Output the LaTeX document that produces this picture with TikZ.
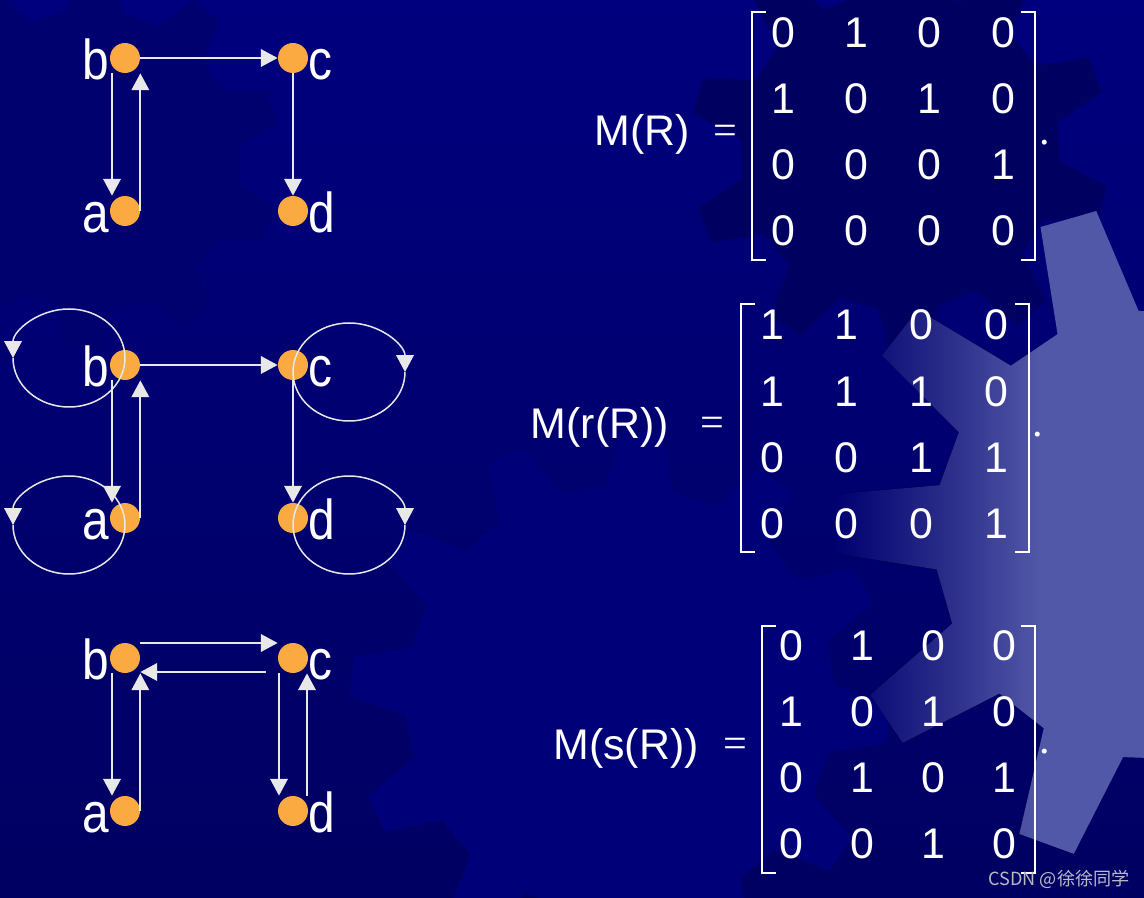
\documentclass[tikz,border=0pt]{standalone}
\usepackage{fontspec}
\setmainfont{Liberation Sans}
\newfontfamily\lblfont[FakeStretch=0.85]{Liberation Sans}
\newfontfamily\eqfont{Liberation Serif}
\newfontfamily\cjkfont{Noto Sans CJK SC}
\usetikzlibrary{arrows.meta,positioning,calc}
\definecolor{bgtop}{RGB}{0,0,126}
\definecolor{bgbot}{RGB}{0,0,98}
\definecolor{bgmid}{RGB}{0,0,112}
\definecolor{gearlight}{RGB}{82,88,168}
\definecolor{gearfade}{RGB}{44,46,138}
\definecolor{geardark}{RGB}{0,0,96}
\definecolor{gearsoft}{RGB}{0,0,110}
\definecolor{gearmid}{RGB}{0,0,120}
\definecolor{dotorange}{RGB}{250,170,64}
\definecolor{arrowgray}{RGB}{232,232,232}
\definecolor{marksilver}{RGB}{185,185,200}
% gear outline: cx, cy, outer r, root r, teeth, turn, path options
\newcommand{\gear}[7]{%
  \pgfmathsetmacro\gstep{360/#5}%
  \path[#7] ([shift={(#1,#2)}]#6-0.3*\gstep:#4)
    \foreach \i [evaluate=\i as \a using #6+(\i-1)*\gstep] in {1,...,#5}{
      -- ([shift={(#1,#2)}]\a-0.3*\gstep:#4) -- ([shift={(#1,#2)}]\a-0.14*\gstep:#3)
      -- ([shift={(#1,#2)}]\a+0.14*\gstep:#3) -- ([shift={(#1,#2)}]\a+0.3*\gstep:#4)} -- cycle;}

\begin{document}
\begin{tikzpicture}[x=0.02cm,y=-0.02cm,
  dot/.style={circle,fill=dotorange,minimum size=0.6cm,inner sep=0pt},
  lbl/.style={font=\lblfont\fontsize{32}{32}\selectfont,text=white,inner sep=0pt,text height=24pt,text depth=0pt},
  arr/.style={draw=arrowgray,line width=1.1pt,-{Triangle[length=9.6pt,width=10pt]}},
  selfloop/.style={arr,line width=0.85pt},
  ent/.style={font=\fontsize{24.4}{26}\selectfont,text=white,inner sep=0pt},
  eqs/.style={font=\eqfont\fontsize{24}{26}\selectfont,text=white,inner sep=0pt},
  brk/.style={draw=white,line width=0.9pt}]
\useasboundingbox (0,0) rectangle (1144,898);
% background
\fill[top color=bgtop,bottom color=bgbot] (0,0) rectangle (1144,898);
\gear{620}{700}{270}{215}{12}{5}{fill=gearmid}
\gear{90}{160}{190}{150}{10}{20}{fill=gearsoft}
\gear{900}{150}{210}{160}{10}{15}{fill=geardark}
\begin{scope}
  \gear{1159}{535}{330}{225}{10}{182}{clip}
  \fill[left color=bgmid,right color=gearfade] (835,0) rectangle (950,898);
  \fill[left color=gearfade,right color=gearlight] (950,0) rectangle (1040,898);
  \fill[gearlight] (1040,0) rectangle (1144,898);
\end{scope}

% the three graphs
\foreach \g/\y in {1/58,2/365,3/658}{
  \node[dot,label={[lbl]left:b}] (b\g) at (125,\y) {};
  \node[dot,label={[lbl]right:c}] (c\g) at (293,\y) {};
  \node[dot,label={[lbl]left:a}] (a\g) at (125,\y+153) {};
  \node[dot,label={[lbl]right:d}] (d\g) at (293,\y+153) {};
}
% R
\draw[arr] ([xshift=-0.26cm]b1.south) -- ([xshift=-0.26cm]a1.north);
\draw[arr] (a1.east) -- (a1.east |- b1.south);
\draw[arr] (b1) -- (c1);
\draw[arr] (c1) -- (d1);
% r(R)
\draw[arr] ([xshift=-0.26cm]b2.south) -- ([xshift=-0.26cm]a2.north);
\draw[arr] (a2.east) -- (a2.east |- b2.south);
\draw[arr] (b2) -- (c2);
\draw[arr] (c2) -- (d2);
\draw[selfloop] (b2.center) ++(-112,-7) arc[start angle=180,end angle=-180,x radius=56,y radius=49];
\draw[selfloop] (a2.center) ++(-112,7) arc[start angle=180,end angle=-180,x radius=56,y radius=49];
\draw[selfloop] (c2.center) ++(112,7) arc[start angle=0,end angle=360,x radius=56,y radius=49];
\draw[selfloop] (d2.center) ++(112,7) arc[start angle=0,end angle=360,x radius=56,y radius=49];
% s(R)
\draw[arr] ([yshift=0.3cm]b3.east) -- ([yshift=0.3cm]c3.west);
\draw[arr] ([shift={(-0.24cm,-0.28cm)}]c3.west) -- ([yshift=-0.28cm]b3.east);
\draw[arr] ([xshift=-0.26cm]b3.south) -- ([xshift=-0.26cm]a3.north);
\draw[arr] (a3.east) -- (a3.east |- b3.south);
\draw[arr] ([xshift=-0.28cm]c3.south) -- ([xshift=-0.28cm]d3.north);
\draw[arr] ([xshift=0.28cm]d3.north) -- ([xshift=0.28cm]c3.south);

% matrices
\node[ent] (mR) at (642,134) {M(R)};
\node[eqs] (eqR) at (725,135) {=};
\foreach \r/\row in {1/{0,1,0,0},2/{1,0,1,0},3/{0,0,0,1},4/{0,0,0,0}}
  \foreach \v [count=\c] in \row
    \node[ent] (R-\r-\c) at (710+73.3*\c,-33+66*\r) {\v};
\node[eqs] (dotR) at (1045,143) {.};

\node[ent] (mrR) at (600,427) {M(r(R))};
\node[eqs] (eqrR) at (712,427) {=};
\foreach \r/\row in {1/{1,1,0,0},2/{1,1,1,0},3/{0,0,1,1},4/{0,0,0,1}}
  \foreach \v [count=\c] in \row
    \node[ent] (rR-\r-\c) at (697.3+74.7*\c,258.7+66.3*\r) {\v};
\node[eqs] (dotrR) at (1038,435) {.};

\node[ent] (msR) at (626,748) {M(s(R))};
\node[eqs] (eqsR) at (735,748) {=};
\foreach \r/\row in {1/{0,1,0,0},2/{1,0,1,0},3/{0,1,0,1},4/{0,0,1,0}}
  \foreach \v [count=\c] in \row
    \node[ent] (sR-\r-\c) at (719.7+71.3*\c,580+66*\r) {\v};
\node[eqs] (dotsR) at (1045,752) {.};

% brackets
\foreach \lx/\rx/\ty/\by in {752/1035/12/260,741/1029/304/552,762/1035/626/873}{
  \draw[brk] (\lx+14,\ty) -- (\lx,\ty) -- (\lx,\by) -- (\lx+14,\by);
  \draw[brk] (\rx-14,\ty) -- (\rx,\ty) -- (\rx,\by) -- (\rx-14,\by);
}

\node[font=\cjkfont\fontsize{10.3}{11}\selectfont,text=marksilver] (wm) at (1059,879) {CSDN @徐徐同学};
\end{tikzpicture}
\end{document}
